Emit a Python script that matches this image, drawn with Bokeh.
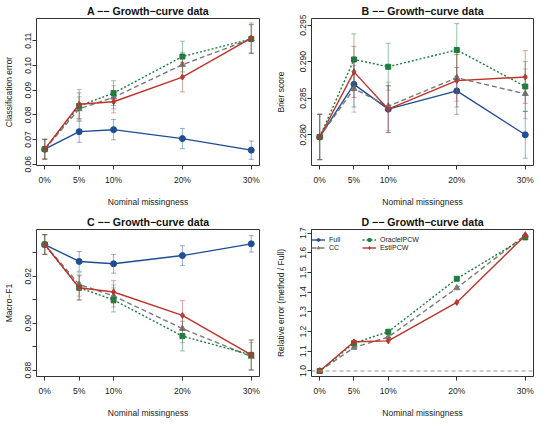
from bokeh.plotting import figure
from bokeh.models import (FixedTicker, Range1d, Whisker, ColumnDataSource, Span,
                          Legend, LegendItem, TeeHead)
from bokeh.layouts import gridplot
from bokeh.embed import file_html
from bokeh.resources import INLINE

FONT = "Liberation Sans"

# ---------------- data ----------------
x_pos = [0, 5, 10, 20, 30]
x_labels = ["0%", "5%", "10%", "20%", "30%"]
methods = ["Full", "CC", "OracleIPCW", "EstIPCW"]

# Panel A: classification error
A_full = [0.0661, 0.0732, 0.0740, 0.0704, 0.0657]
A_full_se = [0.0040, 0.0043, 0.0041, 0.0041, 0.0037]
A_cc = [0.0661, 0.0824, 0.0871, 0.1003, 0.1107]
A_cc_se = [0.0040, 0.0049, 0.0047, 0.0050, 0.0058]
A_oracle = [0.0661, 0.0836, 0.0888, 0.1036, 0.1107]
A_oracle_se = [0.0040, 0.0053, 0.0050, 0.0062, 0.0058]
A_est = [0.0661, 0.0843, 0.0853, 0.0953, 0.1111]
A_est_se = [0.0040, 0.0059, 0.0045, 0.0060, 0.0061]

# Panel B: Brier score
B_full = [0.2797, 0.2869, 0.2835, 0.2860, 0.2800]
B_full_se = [0.0031, 0.0031, 0.0032, 0.0032, 0.0032]
B_cc = [0.2797, 0.2863, 0.2839, 0.2878, 0.2856]
B_cc_se = [0.0031, 0.0032, 0.0033, 0.0032, 0.0034]
B_oracle = [0.2797, 0.2903, 0.2893, 0.2916, 0.2866]
B_oracle_se = [0.0031, 0.0035, 0.0032, 0.0036, 0.0034]
B_est = [0.2797, 0.2886, 0.2835, 0.2874, 0.2879]
B_est_se = [0.0031, 0.0035, 0.0032, 0.0036, 0.0036]

# Panel C: Macro-F1
C_full = [0.9335, 0.9263, 0.9253, 0.9288, 0.9338]
C_full_se = [0.0042, 0.0042, 0.0040, 0.0042, 0.0035]
C_cc = [0.9335, 0.9165, 0.9116, 0.8977, 0.8858]
C_cc_se = [0.0042, 0.0050, 0.0047, 0.0060, 0.0060]
C_oracle = [0.9335, 0.9151, 0.9099, 0.8945, 0.8865]
C_oracle_se = [0.0042, 0.0054, 0.0051, 0.0063, 0.0063]
C_est = [0.9335, 0.9151, 0.9133, 0.9033, 0.8865]
C_est_se = [0.0042, 0.0050, 0.0048, 0.0063, 0.0064]

# Panel D: relative error (method / Full)
D_cc = [1.000, 1.119, 1.172, 1.421, 1.690]
D_oracle = [1.000, 1.141, 1.199, 1.468, 1.678]
D_est = [1.000, 1.148, 1.153, 1.348, 1.688]

A_ticks = [0.06, 0.07, 0.08, 0.09, 0.10, 0.11]
A_tick_labels = ["0.06", "0.07", "0.08", "0.09", "0.10", "0.11"]
B_ticks = [0.280, 0.285, 0.290, 0.295]
B_tick_labels = ["0.280", "0.285", "0.290", "0.295"]
C_ticks = [0.88, 0.89, 0.90, 0.91, 0.92, 0.93]
C_tick_labels = ["0.88", "", "0.90", "", "0.92", ""]
D_ticks = [1.0, 1.1, 1.2, 1.3, 1.4, 1.5, 1.6, 1.7]
D_tick_labels = ["1.0", "1.1", "1.2", "1.3", "1.4", "1.5", "1.6", "1.7"]

# ---------------- styles ----------------
STY = {
    "Full": dict(color="#1F4E96", dash="solid", marker="circle", size=6),
    "CC": dict(color="#7A7A7A", dash="5 3", marker="triangle", size=6),
    "OracleIPCW": dict(color="#1B7D3E", dash="2 2", marker="square", size=5),
    "EstIPCW": dict(color="#C0332A", dash="solid", marker="diamond", size=6),
}


def make_fig(title, yr, ticks, tlabels, ylab, bl, fw, br, bt, fh, bb, yl_stand):
    p = figure(frame_width=fw, frame_height=fh, min_border_left=bl,
               min_border_right=br, min_border_top=bt, min_border_bottom=bb,
               x_range=Range1d(-1.2, 31.2), y_range=Range1d(*yr),
               output_backend="svg", toolbar_location=None,
               background_fill_color="white", border_fill_color="white")
    p.title.text = title
    p.title.align = "center"
    p.title.text_font = FONT
    p.title.text_font_size = "10.6px"
    p.title.text_font_style = "bold"
    p.title.text_color = "#111111"
    p.title.standoff = 4
    p.grid.visible = False
    p.outline_line_color = "#333333"
    p.outline_line_width = 1
    for ax in (p.xaxis[0], p.yaxis[0]):
        ax.axis_line_color = None
        ax.minor_tick_line_color = None
        ax.major_tick_line_color = "#333333"
        ax.major_tick_out = 4
        ax.major_tick_in = 0
        ax.major_label_text_font = FONT
        ax.major_label_text_font_size = "8.5px"
        ax.major_label_text_color = "#222222"
        ax.axis_label_text_font = FONT
        ax.axis_label_text_font_size = "8.5px"
        ax.axis_label_text_font_style = "normal"
        ax.axis_label_text_color = "#222222"
    p.xaxis.ticker = FixedTicker(ticks=x_pos)
    p.xaxis.major_label_overrides = {k: v for k, v in zip(x_pos, x_labels)}
    p.xaxis.axis_label = "Nominal missingness"
    p.xaxis.major_label_standoff = 5
    p.xaxis.axis_label_standoff = 9
    p.yaxis.ticker = FixedTicker(ticks=ticks)
    p.yaxis.major_label_overrides = {k: v for k, v in zip(ticks, tlabels)}
    p.yaxis.major_label_orientation = "vertical"
    p.yaxis.major_label_standoff = 1
    p.yaxis.axis_label = ylab
    p.yaxis.axis_label_standoff = yl_stand
    return p


def add_series(p, name, ys, se=None, xs=None):
    s = STY[name]
    xs = x_pos if xs is None else xs
    src = ColumnDataSource(dict(x=xs, y=ys))
    if se is not None:
        esrc = ColumnDataSource(dict(x=xs,
                                     lo=[a - b for a, b in zip(ys, se)],
                                     hi=[a + b for a, b in zip(ys, se)]))
        w = Whisker(source=esrc, base="x", lower="lo", upper="hi",
                    line_color=s["color"], line_alpha=0.45, line_width=1.0,
                    level="glyph",
                    upper_head=TeeHead(size=5, line_color=s["color"], line_alpha=0.45, line_width=1.0),
                    lower_head=TeeHead(size=5, line_color=s["color"], line_alpha=0.45, line_width=1.0))
        p.add_layout(w)
    lr = p.line("x", "y", source=src, line_color=s["color"], line_width=1.4,
                line_dash=s["dash"])
    mr = p.scatter("x", "y", source=src, marker=s["marker"], size=s["size"],
                   fill_color=s["color"], line_color=s["color"])
    return lr, mr


# ---- A ----
pA = make_fig("A \u2212\u2212 Growth\u2212curve data", (0.0595, 0.1190), A_ticks, A_tick_labels,
              "Classification error", 36, 223, 9, 16, 147, 41, 9)
for name, ys, se in [("Full", A_full, A_full_se), ("CC", A_cc, A_cc_se),
                     ("OracleIPCW", A_oracle, A_oracle_se), ("EstIPCW", A_est, A_est_se)]:
    add_series(pA, name, ys, se)

# ---- B ----
pB = make_fig("B \u2212\u2212 Growth\u2212curve data", (0.2758, 0.2959), B_ticks, B_tick_labels,
              "Brier score", 43, 222, 1, 16, 147, 41, 12)
for name, ys, se in [("Full", B_full, B_full_se), ("CC", B_cc, B_cc_se),
                     ("OracleIPCW", B_oracle, B_oracle_se), ("EstIPCW", B_est, B_est_se)]:
    add_series(pB, name, ys, se)

# ---- C ----
pC = make_fig("C \u2212\u2212 Growth\u2212curve data", (0.8773, 0.9399), C_ticks, C_tick_labels,
              "Macro\u2212F1", 36, 223, 9, 20, 147, 41, 9)
for name, ys, se in [("Full", C_full, C_full_se), ("CC", C_cc, C_cc_se),
                     ("OracleIPCW", C_oracle, C_oracle_se), ("EstIPCW", C_est, C_est_se)]:
    add_series(pC, name, ys, se)

# ---- D ----
pD = make_fig("D \u2212\u2212 Growth\u2212curve data", (0.972, 1.718), D_ticks, D_tick_labels,
              "Relative error (method / Full)", 43, 222, 1, 20, 147, 41, 12)
pD.add_layout(Span(location=1.0, dimension="width", line_color="#9A9A9A",
                   line_width=1.1, line_dash="4 3"))
rend = {}
# Full has no ratio curve in this panel; its legend entry uses a point outside the view
rend["Full"] = add_series(pD, "Full", [1.0], xs=[-50])
for name, ys in [("CC", D_cc), ("OracleIPCW", D_oracle), ("EstIPCW", D_est)]:
    rend[name] = add_series(pD, name, ys)


def mk_legend(names, loc):
    leg = Legend(items=[LegendItem(label=n, renderers=list(rend[n])) for n in names],
                 location=loc, orientation="vertical",
                 background_fill_alpha=0, border_line_color=None,
                 label_text_font=FONT, label_text_font_size="7px",
                 label_text_color="#222222",
                 glyph_width=14, glyph_height=7, label_height=7,
                 label_standoff=4, spacing=1, padding=2, margin=0)
    pD.add_layout(leg)


mk_legend(["Full", "CC"], (0, 125))
mk_legend(["OracleIPCW", "EstIPCW"], (51, 125))

grid = gridplot([[pA, pB], [pC, pD]], toolbar_location=None)
open("out.html", "w").write(file_html(grid, INLINE))
